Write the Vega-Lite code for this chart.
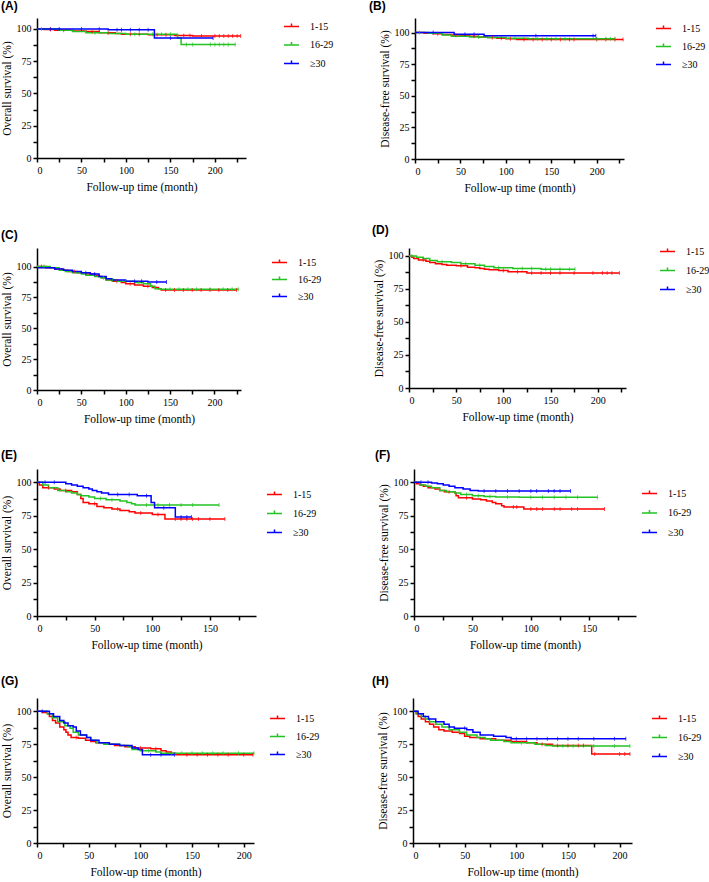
{
"$schema":"https://vega.github.io/schema/vega-lite/v6.json",
"background":"white",
"padding":{"left":1,"top":0,"right":0,"bottom":0},
"config":{
 "view":{"stroke":null},
 "font":"Liberation Serif, Times New Roman, serif",
 "axis":{"domainColor":"black","domainWidth":1.5,"tickColor":"black","tickWidth":1.5,"tickSize":4,"labelFont":"Liberation Serif, Times New Roman, serif","labelFontSize":10,"labelColor":"black","titleFont":"Liberation Serif, Times New Roman, serif","titleFontSize":11.5,"titleFontWeight":"normal","titleColor":"black","grid":false,"format":"d"},
 "axisX":{"labelPadding":3,"titlePadding":6,"labelAngle":0},
 "axisY":{"labelPadding":2,"titlePadding":4},
 "legend":{"orient":"none","padding":0,"labelFont":"Liberation Serif, Times New Roman, serif","labelFontSize":10,"labelColor":"black","symbolType":"M-1,0H1M0,0V-0.4","symbolSize":225,"symbolStrokeWidth":1.5,"labelOffset":10,"rowPadding":4},
 "title":{"font":"Liberation Sans, Arial, sans-serif","fontSize":12,"fontWeight":"bold","anchor":"start","frame":"group","color":"black"},
 "line":{"strokeWidth":1.5,"interpolate":"step-after"},
 "tick":{"thickness":1,"size":4,"orient":"vertical","yOffset":-1.5}
},
"datasets":{"km":[
{"p":"A","g":"1-15","t":0,"s":100,"c":0},{"p":"A","g":"1-15","t":8,"s":99.5,"c":0},{"p":"A","g":"1-15","t":15,"s":99.5,"c":1},{"p":"A","g":"1-15","t":20,"s":99,"c":0},{"p":"A","g":"1-15","t":30,"s":99,"c":1},{"p":"A","g":"1-15","t":40,"s":98.5,"c":0},{"p":"A","g":"1-15","t":55,"s":98,"c":0},{"p":"A","g":"1-15","t":62,"s":98,"c":1},{"p":"A","g":"1-15","t":70,"s":97,"c":0},{"p":"A","g":"1-15","t":80,"s":97,"c":1},{"p":"A","g":"1-15","t":88,"s":96.5,"c":0},{"p":"A","g":"1-15","t":95,"s":96,"c":0},{"p":"A","g":"1-15","t":105,"s":96,"c":1},{"p":"A","g":"1-15","t":115,"s":96,"c":1},{"p":"A","g":"1-15","t":125,"s":95.5,"c":0},{"p":"A","g":"1-15","t":135,"s":95.5,"c":1},{"p":"A","g":"1-15","t":145,"s":95.5,"c":1},{"p":"A","g":"1-15","t":155,"s":95,"c":0},{"p":"A","g":"1-15","t":165,"s":95,"c":1},{"p":"A","g":"1-15","t":172,"s":95,"c":1},{"p":"A","g":"1-15","t":175,"s":94.5,"c":0},{"p":"A","g":"1-15","t":185,"s":94.5,"c":1},{"p":"A","g":"1-15","t":200,"s":94.5,"c":1},{"p":"A","g":"1-15","t":205,"s":94.5,"c":1},{"p":"A","g":"1-15","t":210,"s":94.5,"c":1},{"p":"A","g":"1-15","t":215,"s":94.5,"c":1},{"p":"A","g":"1-15","t":220,"s":94.5,"c":1},{"p":"A","g":"1-15","t":225,"s":94.5,"c":1},{"p":"A","g":"1-15","t":229,"s":94.5,"c":1},
{"p":"A","g":"16-29","t":0,"s":100,"c":0},{"p":"A","g":"16-29","t":5,"s":100,"c":1},{"p":"A","g":"16-29","t":25,"s":99,"c":0},{"p":"A","g":"16-29","t":40,"s":98,"c":0},{"p":"A","g":"16-29","t":55,"s":97,"c":0},{"p":"A","g":"16-29","t":65,"s":97,"c":1},{"p":"A","g":"16-29","t":80,"s":96.5,"c":0},{"p":"A","g":"16-29","t":100,"s":96,"c":0},{"p":"A","g":"16-29","t":110,"s":96,"c":1},{"p":"A","g":"16-29","t":130,"s":96,"c":1},{"p":"A","g":"16-29","t":140,"s":96,"c":1},{"p":"A","g":"16-29","t":150,"s":96,"c":1},{"p":"A","g":"16-29","t":158,"s":93,"c":0},{"p":"A","g":"16-29","t":162,"s":88,"c":0},{"p":"A","g":"16-29","t":168,"s":88,"c":1},{"p":"A","g":"16-29","t":175,"s":88,"c":1},{"p":"A","g":"16-29","t":195,"s":88,"c":1},{"p":"A","g":"16-29","t":200,"s":88,"c":1},{"p":"A","g":"16-29","t":205,"s":88,"c":1},{"p":"A","g":"16-29","t":210,"s":88,"c":1},{"p":"A","g":"16-29","t":215,"s":88,"c":1},{"p":"A","g":"16-29","t":223,"s":88,"c":1},
{"p":"A","g":"≥30","t":0,"s":100,"c":0},{"p":"A","g":"≥30","t":15,"s":100,"c":1},{"p":"A","g":"≥30","t":25,"s":100,"c":1},{"p":"A","g":"≥30","t":50,"s":100,"c":1},{"p":"A","g":"≥30","t":70,"s":100,"c":1},{"p":"A","g":"≥30","t":80,"s":99.3,"c":0},{"p":"A","g":"≥30","t":90,"s":99.3,"c":1},{"p":"A","g":"≥30","t":95,"s":99.3,"c":1},{"p":"A","g":"≥30","t":105,"s":99.3,"c":1},{"p":"A","g":"≥30","t":115,"s":99.3,"c":1},{"p":"A","g":"≥30","t":125,"s":99.3,"c":1},{"p":"A","g":"≥30","t":132,"s":93,"c":0},{"p":"A","g":"≥30","t":150,"s":93,"c":1},{"p":"A","g":"≥30","t":198,"s":93,"c":1},
{"p":"B","g":"1-15","t":0,"s":100,"c":0},{"p":"B","g":"1-15","t":10,"s":99.5,"c":0},{"p":"B","g":"1-15","t":20,"s":99,"c":0},{"p":"B","g":"1-15","t":25,"s":99,"c":1},{"p":"B","g":"1-15","t":30,"s":98.5,"c":0},{"p":"B","g":"1-15","t":40,"s":98,"c":0},{"p":"B","g":"1-15","t":45,"s":98,"c":1},{"p":"B","g":"1-15","t":50,"s":97.5,"c":0},{"p":"B","g":"1-15","t":60,"s":97,"c":0},{"p":"B","g":"1-15","t":65,"s":97,"c":1},{"p":"B","g":"1-15","t":70,"s":96.5,"c":0},{"p":"B","g":"1-15","t":80,"s":96,"c":0},{"p":"B","g":"1-15","t":85,"s":96,"c":1},{"p":"B","g":"1-15","t":90,"s":95.5,"c":0},{"p":"B","g":"1-15","t":95,"s":95.5,"c":1},{"p":"B","g":"1-15","t":100,"s":95,"c":0},{"p":"B","g":"1-15","t":105,"s":95,"c":1},{"p":"B","g":"1-15","t":112,"s":94.5,"c":0},{"p":"B","g":"1-15","t":120,"s":94.5,"c":1},{"p":"B","g":"1-15","t":130,"s":94.5,"c":1},{"p":"B","g":"1-15","t":140,"s":94.5,"c":1},{"p":"B","g":"1-15","t":150,"s":94.5,"c":1},{"p":"B","g":"1-15","t":160,"s":94.5,"c":1},{"p":"B","g":"1-15","t":170,"s":94.5,"c":1},{"p":"B","g":"1-15","t":175,"s":94.5,"c":1},{"p":"B","g":"1-15","t":200,"s":94.5,"c":1},{"p":"B","g":"1-15","t":210,"s":94.5,"c":1},{"p":"B","g":"1-15","t":220,"s":94.5,"c":1},{"p":"B","g":"1-15","t":229,"s":94.5,"c":1},
{"p":"B","g":"16-29","t":0,"s":100,"c":0},{"p":"B","g":"16-29","t":5,"s":100,"c":1},{"p":"B","g":"16-29","t":15,"s":99.5,"c":0},{"p":"B","g":"16-29","t":30,"s":98,"c":0},{"p":"B","g":"16-29","t":40,"s":97,"c":0},{"p":"B","g":"16-29","t":60,"s":96.5,"c":0},{"p":"B","g":"16-29","t":70,"s":96.5,"c":1},{"p":"B","g":"16-29","t":80,"s":96,"c":0},{"p":"B","g":"16-29","t":100,"s":95.5,"c":0},{"p":"B","g":"16-29","t":110,"s":95.5,"c":1},{"p":"B","g":"16-29","t":125,"s":95,"c":0},{"p":"B","g":"16-29","t":135,"s":95,"c":1},{"p":"B","g":"16-29","t":145,"s":95,"c":1},{"p":"B","g":"16-29","t":155,"s":95,"c":1},{"p":"B","g":"16-29","t":165,"s":95,"c":1},{"p":"B","g":"16-29","t":200,"s":95,"c":1},{"p":"B","g":"16-29","t":210,"s":95,"c":1},{"p":"B","g":"16-29","t":215,"s":95,"c":1},{"p":"B","g":"16-29","t":220,"s":95,"c":1},
{"p":"B","g":"≥30","t":0,"s":100,"c":0},{"p":"B","g":"≥30","t":20,"s":100,"c":1},{"p":"B","g":"≥30","t":43,"s":98.7,"c":0},{"p":"B","g":"≥30","t":55,"s":98.7,"c":1},{"p":"B","g":"≥30","t":65,"s":98.7,"c":1},{"p":"B","g":"≥30","t":76,"s":97.5,"c":0},{"p":"B","g":"≥30","t":133,"s":97.5,"c":1},{"p":"B","g":"≥30","t":196,"s":97.5,"c":1},{"p":"B","g":"≥30","t":199,"s":97.5,"c":1},
{"p":"C","g":"1-15","t":0,"s":100,"c":0},{"p":"C","g":"1-15","t":5,"s":100,"c":1},{"p":"C","g":"1-15","t":10,"s":99,"c":0},{"p":"C","g":"1-15","t":20,"s":98,"c":0},{"p":"C","g":"1-15","t":28,"s":97,"c":0},{"p":"C","g":"1-15","t":35,"s":96,"c":0},{"p":"C","g":"1-15","t":42,"s":96,"c":1},{"p":"C","g":"1-15","t":45,"s":95,"c":0},{"p":"C","g":"1-15","t":55,"s":94,"c":0},{"p":"C","g":"1-15","t":65,"s":93,"c":0},{"p":"C","g":"1-15","t":70,"s":92,"c":0},{"p":"C","g":"1-15","t":73,"s":91,"c":0},{"p":"C","g":"1-15","t":78,"s":89,"c":0},{"p":"C","g":"1-15","t":85,"s":88,"c":0},{"p":"C","g":"1-15","t":90,"s":88,"c":1},{"p":"C","g":"1-15","t":95,"s":87,"c":0},{"p":"C","g":"1-15","t":100,"s":86,"c":0},{"p":"C","g":"1-15","t":105,"s":86,"c":1},{"p":"C","g":"1-15","t":110,"s":85,"c":0},{"p":"C","g":"1-15","t":120,"s":84,"c":0},{"p":"C","g":"1-15","t":125,"s":84,"c":1},{"p":"C","g":"1-15","t":130,"s":83,"c":0},{"p":"C","g":"1-15","t":137,"s":82,"c":0},{"p":"C","g":"1-15","t":140,"s":81,"c":0},{"p":"C","g":"1-15","t":145,"s":81,"c":1},{"p":"C","g":"1-15","t":155,"s":81,"c":1},{"p":"C","g":"1-15","t":165,"s":81,"c":1},{"p":"C","g":"1-15","t":175,"s":81,"c":1},{"p":"C","g":"1-15","t":185,"s":81,"c":1},{"p":"C","g":"1-15","t":195,"s":81,"c":1},{"p":"C","g":"1-15","t":205,"s":81,"c":1},{"p":"C","g":"1-15","t":215,"s":81,"c":1},{"p":"C","g":"1-15","t":225,"s":81,"c":1},
{"p":"C","g":"16-29","t":0,"s":100,"c":0},{"p":"C","g":"16-29","t":8,"s":100,"c":1},{"p":"C","g":"16-29","t":15,"s":99,"c":0},{"p":"C","g":"16-29","t":25,"s":97,"c":0},{"p":"C","g":"16-29","t":32,"s":96,"c":0},{"p":"C","g":"16-29","t":40,"s":95,"c":0},{"p":"C","g":"16-29","t":50,"s":94,"c":0},{"p":"C","g":"16-29","t":55,"s":93,"c":0},{"p":"C","g":"16-29","t":65,"s":92,"c":0},{"p":"C","g":"16-29","t":72,"s":91,"c":0},{"p":"C","g":"16-29","t":75,"s":91,"c":1},{"p":"C","g":"16-29","t":78,"s":89,"c":0},{"p":"C","g":"16-29","t":85,"s":89,"c":1},{"p":"C","g":"16-29","t":90,"s":88,"c":0},{"p":"C","g":"16-29","t":100,"s":88,"c":1},{"p":"C","g":"16-29","t":110,"s":87,"c":0},{"p":"C","g":"16-29","t":115,"s":87,"c":1},{"p":"C","g":"16-29","t":120,"s":86,"c":0},{"p":"C","g":"16-29","t":128,"s":84,"c":0},{"p":"C","g":"16-29","t":133,"s":82,"c":0},{"p":"C","g":"16-29","t":140,"s":81.5,"c":0},{"p":"C","g":"16-29","t":150,"s":81.5,"c":1},{"p":"C","g":"16-29","t":160,"s":81.5,"c":1},{"p":"C","g":"16-29","t":170,"s":81.5,"c":1},{"p":"C","g":"16-29","t":180,"s":81.5,"c":1},{"p":"C","g":"16-29","t":195,"s":81.5,"c":1},{"p":"C","g":"16-29","t":210,"s":81.5,"c":1},{"p":"C","g":"16-29","t":220,"s":81.5,"c":1},{"p":"C","g":"16-29","t":227,"s":81.5,"c":1},
{"p":"C","g":"≥30","t":0,"s":99,"c":0},{"p":"C","g":"≥30","t":20,"s":98,"c":0},{"p":"C","g":"≥30","t":30,"s":97,"c":0},{"p":"C","g":"≥30","t":40,"s":96,"c":0},{"p":"C","g":"≥30","t":50,"s":95,"c":0},{"p":"C","g":"≥30","t":55,"s":95,"c":1},{"p":"C","g":"≥30","t":60,"s":94,"c":0},{"p":"C","g":"≥30","t":65,"s":94,"c":1},{"p":"C","g":"≥30","t":70,"s":92,"c":0},{"p":"C","g":"≥30","t":78,"s":90,"c":0},{"p":"C","g":"≥30","t":85,"s":89,"c":0},{"p":"C","g":"≥30","t":100,"s":88,"c":0},{"p":"C","g":"≥30","t":110,"s":88,"c":1},{"p":"C","g":"≥30","t":118,"s":88,"c":1},{"p":"C","g":"≥30","t":125,"s":87.5,"c":0},{"p":"C","g":"≥30","t":135,"s":87.5,"c":1},{"p":"C","g":"≥30","t":146,"s":87.5,"c":1},
{"p":"D","g":"1-15","t":0,"s":100,"c":0},{"p":"D","g":"1-15","t":3,"s":99,"c":0},{"p":"D","g":"1-15","t":5,"s":98,"c":0},{"p":"D","g":"1-15","t":10,"s":97,"c":0},{"p":"D","g":"1-15","t":15,"s":97,"c":1},{"p":"D","g":"1-15","t":18,"s":96,"c":0},{"p":"D","g":"1-15","t":22,"s":95,"c":0},{"p":"D","g":"1-15","t":28,"s":94,"c":0},{"p":"D","g":"1-15","t":35,"s":93.5,"c":0},{"p":"D","g":"1-15","t":40,"s":93,"c":0},{"p":"D","g":"1-15","t":50,"s":92.5,"c":0},{"p":"D","g":"1-15","t":55,"s":92.5,"c":1},{"p":"D","g":"1-15","t":62,"s":91.5,"c":0},{"p":"D","g":"1-15","t":70,"s":91,"c":0},{"p":"D","g":"1-15","t":75,"s":90.5,"c":0},{"p":"D","g":"1-15","t":80,"s":90,"c":0},{"p":"D","g":"1-15","t":85,"s":89.5,"c":0},{"p":"D","g":"1-15","t":95,"s":89,"c":0},{"p":"D","g":"1-15","t":100,"s":89,"c":1},{"p":"D","g":"1-15","t":105,"s":88,"c":0},{"p":"D","g":"1-15","t":115,"s":88,"c":1},{"p":"D","g":"1-15","t":125,"s":87,"c":0},{"p":"D","g":"1-15","t":130,"s":87,"c":1},{"p":"D","g":"1-15","t":140,"s":87,"c":1},{"p":"D","g":"1-15","t":150,"s":87,"c":1},{"p":"D","g":"1-15","t":160,"s":87,"c":1},{"p":"D","g":"1-15","t":175,"s":87,"c":1},{"p":"D","g":"1-15","t":195,"s":87,"c":1},{"p":"D","g":"1-15","t":205,"s":87,"c":1},{"p":"D","g":"1-15","t":210,"s":87,"c":1},{"p":"D","g":"1-15","t":215,"s":87,"c":1},{"p":"D","g":"1-15","t":223,"s":87,"c":1},
{"p":"D","g":"16-29","t":0,"s":100,"c":0},{"p":"D","g":"16-29","t":3,"s":100,"c":1},{"p":"D","g":"16-29","t":8,"s":99,"c":0},{"p":"D","g":"16-29","t":15,"s":98,"c":0},{"p":"D","g":"16-29","t":22,"s":96.5,"c":0},{"p":"D","g":"16-29","t":30,"s":95.5,"c":0},{"p":"D","g":"16-29","t":35,"s":95.5,"c":1},{"p":"D","g":"16-29","t":45,"s":95,"c":0},{"p":"D","g":"16-29","t":55,"s":94,"c":0},{"p":"D","g":"16-29","t":60,"s":94,"c":1},{"p":"D","g":"16-29","t":70,"s":93,"c":0},{"p":"D","g":"16-29","t":75,"s":93,"c":1},{"p":"D","g":"16-29","t":80,"s":92,"c":0},{"p":"D","g":"16-29","t":90,"s":91,"c":0},{"p":"D","g":"16-29","t":95,"s":91,"c":1},{"p":"D","g":"16-29","t":110,"s":90.5,"c":0},{"p":"D","g":"16-29","t":120,"s":90.5,"c":1},{"p":"D","g":"16-29","t":130,"s":90.5,"c":1},{"p":"D","g":"16-29","t":140,"s":90,"c":0},{"p":"D","g":"16-29","t":145,"s":90,"c":1},{"p":"D","g":"16-29","t":150,"s":90,"c":1},{"p":"D","g":"16-29","t":160,"s":90,"c":1},{"p":"D","g":"16-29","t":170,"s":90,"c":1},{"p":"D","g":"16-29","t":176,"s":90,"c":1},
{"p":"E","g":"1-15","t":0,"s":100,"c":0},{"p":"E","g":"1-15","t":2,"s":98,"c":0},{"p":"E","g":"1-15","t":5,"s":96,"c":0},{"p":"E","g":"1-15","t":10,"s":96,"c":1},{"p":"E","g":"1-15","t":15,"s":95,"c":0},{"p":"E","g":"1-15","t":20,"s":94,"c":0},{"p":"E","g":"1-15","t":25,"s":94,"c":1},{"p":"E","g":"1-15","t":30,"s":93,"c":0},{"p":"E","g":"1-15","t":35,"s":91,"c":0},{"p":"E","g":"1-15","t":38,"s":88,"c":0},{"p":"E","g":"1-15","t":40,"s":85,"c":0},{"p":"E","g":"1-15","t":45,"s":84,"c":0},{"p":"E","g":"1-15","t":50,"s":84,"c":1},{"p":"E","g":"1-15","t":52,"s":82,"c":0},{"p":"E","g":"1-15","t":58,"s":81,"c":0},{"p":"E","g":"1-15","t":65,"s":80,"c":0},{"p":"E","g":"1-15","t":70,"s":80,"c":1},{"p":"E","g":"1-15","t":72,"s":79,"c":0},{"p":"E","g":"1-15","t":80,"s":78,"c":0},{"p":"E","g":"1-15","t":85,"s":77,"c":0},{"p":"E","g":"1-15","t":90,"s":77,"c":1},{"p":"E","g":"1-15","t":100,"s":76,"c":0},{"p":"E","g":"1-15","t":105,"s":76,"c":1},{"p":"E","g":"1-15","t":111,"s":72.5,"c":0},{"p":"E","g":"1-15","t":120,"s":72.5,"c":1},{"p":"E","g":"1-15","t":125,"s":72.5,"c":1},{"p":"E","g":"1-15","t":130,"s":72.5,"c":1},{"p":"E","g":"1-15","t":135,"s":72.5,"c":1},{"p":"E","g":"1-15","t":140,"s":72.5,"c":1},{"p":"E","g":"1-15","t":150,"s":72.5,"c":1},{"p":"E","g":"1-15","t":163,"s":72.5,"c":1},
{"p":"E","g":"16-29","t":0,"s":100,"c":0},{"p":"E","g":"16-29","t":5,"s":98,"c":0},{"p":"E","g":"16-29","t":10,"s":96,"c":0},{"p":"E","g":"16-29","t":18,"s":94,"c":0},{"p":"E","g":"16-29","t":25,"s":93,"c":0},{"p":"E","g":"16-29","t":30,"s":92,"c":0},{"p":"E","g":"16-29","t":35,"s":91,"c":0},{"p":"E","g":"16-29","t":38,"s":90,"c":0},{"p":"E","g":"16-29","t":45,"s":89,"c":0},{"p":"E","g":"16-29","t":50,"s":88,"c":0},{"p":"E","g":"16-29","t":55,"s":88,"c":1},{"p":"E","g":"16-29","t":60,"s":87,"c":0},{"p":"E","g":"16-29","t":65,"s":87,"c":1},{"p":"E","g":"16-29","t":72,"s":86,"c":0},{"p":"E","g":"16-29","t":78,"s":85,"c":0},{"p":"E","g":"16-29","t":82,"s":84,"c":0},{"p":"E","g":"16-29","t":85,"s":83,"c":0},{"p":"E","g":"16-29","t":95,"s":83,"c":1},{"p":"E","g":"16-29","t":105,"s":83,"c":1},{"p":"E","g":"16-29","t":115,"s":83,"c":1},{"p":"E","g":"16-29","t":125,"s":83,"c":1},{"p":"E","g":"16-29","t":135,"s":83,"c":1},{"p":"E","g":"16-29","t":158,"s":83,"c":1},
{"p":"E","g":"≥30","t":0,"s":100,"c":0},{"p":"E","g":"≥30","t":7,"s":100,"c":1},{"p":"E","g":"≥30","t":15,"s":100,"c":1},{"p":"E","g":"≥30","t":25,"s":99,"c":0},{"p":"E","g":"≥30","t":30,"s":98,"c":0},{"p":"E","g":"≥30","t":35,"s":97,"c":0},{"p":"E","g":"≥30","t":40,"s":96,"c":0},{"p":"E","g":"≥30","t":45,"s":95,"c":0},{"p":"E","g":"≥30","t":48,"s":94,"c":0},{"p":"E","g":"≥30","t":52,"s":93,"c":0},{"p":"E","g":"≥30","t":56,"s":92,"c":0},{"p":"E","g":"≥30","t":62,"s":91,"c":0},{"p":"E","g":"≥30","t":70,"s":91,"c":1},{"p":"E","g":"≥30","t":80,"s":91,"c":1},{"p":"E","g":"≥30","t":87,"s":90,"c":0},{"p":"E","g":"≥30","t":95,"s":90,"c":1},{"p":"E","g":"≥30","t":99,"s":85,"c":0},{"p":"E","g":"≥30","t":102,"s":81,"c":0},{"p":"E","g":"≥30","t":110,"s":81,"c":1},{"p":"E","g":"≥30","t":120,"s":74,"c":0},{"p":"E","g":"≥30","t":125,"s":74,"c":1},{"p":"E","g":"≥30","t":130,"s":74,"c":1},{"p":"E","g":"≥30","t":134,"s":74,"c":1},
{"p":"F","g":"1-15","t":0,"s":100,"c":0},{"p":"F","g":"1-15","t":2,"s":99,"c":0},{"p":"F","g":"1-15","t":5,"s":98,"c":0},{"p":"F","g":"1-15","t":8,"s":97,"c":0},{"p":"F","g":"1-15","t":12,"s":96,"c":0},{"p":"F","g":"1-15","t":18,"s":95,"c":0},{"p":"F","g":"1-15","t":22,"s":94,"c":0},{"p":"F","g":"1-15","t":26,"s":93,"c":0},{"p":"F","g":"1-15","t":30,"s":93,"c":1},{"p":"F","g":"1-15","t":35,"s":92,"c":0},{"p":"F","g":"1-15","t":36,"s":90,"c":0},{"p":"F","g":"1-15","t":38,"s":88.5,"c":0},{"p":"F","g":"1-15","t":45,"s":88.5,"c":1},{"p":"F","g":"1-15","t":50,"s":87.5,"c":0},{"p":"F","g":"1-15","t":57,"s":87,"c":0},{"p":"F","g":"1-15","t":62,"s":86,"c":0},{"p":"F","g":"1-15","t":67,"s":85,"c":0},{"p":"F","g":"1-15","t":70,"s":84,"c":0},{"p":"F","g":"1-15","t":75,"s":82.5,"c":0},{"p":"F","g":"1-15","t":77,"s":81.5,"c":0},{"p":"F","g":"1-15","t":85,"s":81.5,"c":1},{"p":"F","g":"1-15","t":88,"s":81.5,"c":1},{"p":"F","g":"1-15","t":94,"s":80,"c":0},{"p":"F","g":"1-15","t":100,"s":80,"c":1},{"p":"F","g":"1-15","t":105,"s":80,"c":1},{"p":"F","g":"1-15","t":110,"s":80,"c":1},{"p":"F","g":"1-15","t":120,"s":80,"c":1},{"p":"F","g":"1-15","t":125,"s":80,"c":1},{"p":"F","g":"1-15","t":135,"s":80,"c":1},{"p":"F","g":"1-15","t":140,"s":80,"c":1},{"p":"F","g":"1-15","t":163,"s":80,"c":1},
{"p":"F","g":"16-29","t":0,"s":100,"c":0},{"p":"F","g":"16-29","t":5,"s":98,"c":0},{"p":"F","g":"16-29","t":10,"s":97,"c":0},{"p":"F","g":"16-29","t":15,"s":96,"c":0},{"p":"F","g":"16-29","t":22,"s":94,"c":0},{"p":"F","g":"16-29","t":28,"s":93,"c":0},{"p":"F","g":"16-29","t":35,"s":92,"c":0},{"p":"F","g":"16-29","t":40,"s":91,"c":0},{"p":"F","g":"16-29","t":45,"s":91,"c":1},{"p":"F","g":"16-29","t":50,"s":90,"c":0},{"p":"F","g":"16-29","t":55,"s":90,"c":1},{"p":"F","g":"16-29","t":60,"s":89.5,"c":0},{"p":"F","g":"16-29","t":65,"s":89.5,"c":1},{"p":"F","g":"16-29","t":70,"s":89,"c":0},{"p":"F","g":"16-29","t":80,"s":89,"c":1},{"p":"F","g":"16-29","t":90,"s":88.8,"c":0},{"p":"F","g":"16-29","t":100,"s":88.8,"c":1},{"p":"F","g":"16-29","t":110,"s":88.8,"c":1},{"p":"F","g":"16-29","t":120,"s":88.8,"c":1},{"p":"F","g":"16-29","t":130,"s":88.8,"c":1},{"p":"F","g":"16-29","t":140,"s":88.8,"c":1},{"p":"F","g":"16-29","t":157,"s":88.8,"c":1},
{"p":"F","g":"≥30","t":0,"s":100,"c":0},{"p":"F","g":"≥30","t":6,"s":100,"c":1},{"p":"F","g":"≥30","t":12,"s":100,"c":1},{"p":"F","g":"≥30","t":15,"s":99.5,"c":0},{"p":"F","g":"≥30","t":20,"s":99,"c":0},{"p":"F","g":"≥30","t":25,"s":98,"c":0},{"p":"F","g":"≥30","t":30,"s":97,"c":0},{"p":"F","g":"≥30","t":35,"s":96,"c":0},{"p":"F","g":"≥30","t":42,"s":95,"c":0},{"p":"F","g":"≥30","t":48,"s":94,"c":0},{"p":"F","g":"≥30","t":55,"s":93.5,"c":0},{"p":"F","g":"≥30","t":60,"s":93.5,"c":1},{"p":"F","g":"≥30","t":70,"s":93.5,"c":1},{"p":"F","g":"≥30","t":80,"s":93.5,"c":1},{"p":"F","g":"≥30","t":90,"s":93.5,"c":1},{"p":"F","g":"≥30","t":100,"s":93.5,"c":1},{"p":"F","g":"≥30","t":105,"s":93.5,"c":1},{"p":"F","g":"≥30","t":115,"s":93.5,"c":1},{"p":"F","g":"≥30","t":120,"s":93.5,"c":1},{"p":"F","g":"≥30","t":125,"s":93.5,"c":1},{"p":"F","g":"≥30","t":134,"s":93.5,"c":1},
{"p":"G","g":"1-15","t":0,"s":100,"c":0},{"p":"G","g":"1-15","t":5,"s":99,"c":0},{"p":"G","g":"1-15","t":10,"s":98,"c":0},{"p":"G","g":"1-15","t":12,"s":96,"c":0},{"p":"G","g":"1-15","t":15,"s":93,"c":0},{"p":"G","g":"1-15","t":18,"s":91,"c":0},{"p":"G","g":"1-15","t":22,"s":88,"c":0},{"p":"G","g":"1-15","t":26,"s":86,"c":0},{"p":"G","g":"1-15","t":28,"s":84,"c":0},{"p":"G","g":"1-15","t":30,"s":82,"c":0},{"p":"G","g":"1-15","t":33,"s":80,"c":0},{"p":"G","g":"1-15","t":38,"s":80,"c":1},{"p":"G","g":"1-15","t":40,"s":79.5,"c":0},{"p":"G","g":"1-15","t":47,"s":78,"c":0},{"p":"G","g":"1-15","t":52,"s":77,"c":0},{"p":"G","g":"1-15","t":57,"s":76,"c":0},{"p":"G","g":"1-15","t":65,"s":75,"c":0},{"p":"G","g":"1-15","t":75,"s":74,"c":0},{"p":"G","g":"1-15","t":85,"s":73,"c":0},{"p":"G","g":"1-15","t":95,"s":72,"c":0},{"p":"G","g":"1-15","t":100,"s":72,"c":1},{"p":"G","g":"1-15","t":110,"s":71.5,"c":0},{"p":"G","g":"1-15","t":115,"s":71.5,"c":1},{"p":"G","g":"1-15","t":120,"s":70,"c":0},{"p":"G","g":"1-15","t":125,"s":69,"c":0},{"p":"G","g":"1-15","t":130,"s":68,"c":0},{"p":"G","g":"1-15","t":134,"s":67,"c":0},{"p":"G","g":"1-15","t":145,"s":67,"c":1},{"p":"G","g":"1-15","t":155,"s":67,"c":1},{"p":"G","g":"1-15","t":165,"s":67,"c":1},{"p":"G","g":"1-15","t":175,"s":67,"c":1},{"p":"G","g":"1-15","t":185,"s":67,"c":1},{"p":"G","g":"1-15","t":200,"s":67,"c":1},{"p":"G","g":"1-15","t":209,"s":67,"c":1},
{"p":"G","g":"16-29","t":0,"s":100,"c":0},{"p":"G","g":"16-29","t":10,"s":98,"c":0},{"p":"G","g":"16-29","t":15,"s":95,"c":0},{"p":"G","g":"16-29","t":20,"s":92,"c":0},{"p":"G","g":"16-29","t":27,"s":89,"c":0},{"p":"G","g":"16-29","t":32,"s":87,"c":0},{"p":"G","g":"16-29","t":35,"s":84,"c":0},{"p":"G","g":"16-29","t":40,"s":82,"c":0},{"p":"G","g":"16-29","t":48,"s":80,"c":0},{"p":"G","g":"16-29","t":52,"s":78,"c":0},{"p":"G","g":"16-29","t":58,"s":76,"c":0},{"p":"G","g":"16-29","t":65,"s":75,"c":0},{"p":"G","g":"16-29","t":80,"s":74,"c":0},{"p":"G","g":"16-29","t":88,"s":73,"c":0},{"p":"G","g":"16-29","t":92,"s":71,"c":0},{"p":"G","g":"16-29","t":100,"s":70,"c":0},{"p":"G","g":"16-29","t":108,"s":70,"c":1},{"p":"G","g":"16-29","t":115,"s":69,"c":0},{"p":"G","g":"16-29","t":120,"s":68,"c":0},{"p":"G","g":"16-29","t":130,"s":68,"c":1},{"p":"G","g":"16-29","t":140,"s":68,"c":1},{"p":"G","g":"16-29","t":150,"s":68,"c":1},{"p":"G","g":"16-29","t":160,"s":68,"c":1},{"p":"G","g":"16-29","t":170,"s":68,"c":1},{"p":"G","g":"16-29","t":180,"s":68,"c":1},{"p":"G","g":"16-29","t":195,"s":68,"c":1},{"p":"G","g":"16-29","t":210,"s":68,"c":1},
{"p":"G","g":"≥30","t":0,"s":100,"c":0},{"p":"G","g":"≥30","t":5,"s":100,"c":1},{"p":"G","g":"≥30","t":12,"s":98,"c":0},{"p":"G","g":"≥30","t":16,"s":96,"c":0},{"p":"G","g":"≥30","t":22,"s":93,"c":0},{"p":"G","g":"≥30","t":26,"s":91,"c":0},{"p":"G","g":"≥30","t":30,"s":89,"c":0},{"p":"G","g":"≥30","t":35,"s":88,"c":0},{"p":"G","g":"≥30","t":38,"s":85,"c":0},{"p":"G","g":"≥30","t":42,"s":82,"c":0},{"p":"G","g":"≥30","t":48,"s":80,"c":0},{"p":"G","g":"≥30","t":52,"s":78,"c":0},{"p":"G","g":"≥30","t":60,"s":76,"c":0},{"p":"G","g":"≥30","t":70,"s":75,"c":0},{"p":"G","g":"≥30","t":80,"s":74,"c":0},{"p":"G","g":"≥30","t":92,"s":72,"c":0},{"p":"G","g":"≥30","t":98,"s":71,"c":0},{"p":"G","g":"≥30","t":102,"s":67,"c":0},{"p":"G","g":"≥30","t":110,"s":67,"c":1},{"p":"G","g":"≥30","t":120,"s":67,"c":1},{"p":"G","g":"≥30","t":133,"s":67,"c":1},
{"p":"H","g":"1-15","t":0,"s":100,"c":0},{"p":"H","g":"1-15","t":3,"s":98,"c":0},{"p":"H","g":"1-15","t":5,"s":96,"c":0},{"p":"H","g":"1-15","t":8,"s":94,"c":0},{"p":"H","g":"1-15","t":12,"s":92,"c":0},{"p":"H","g":"1-15","t":16,"s":90,"c":0},{"p":"H","g":"1-15","t":20,"s":88,"c":0},{"p":"H","g":"1-15","t":25,"s":86,"c":0},{"p":"H","g":"1-15","t":30,"s":85,"c":0},{"p":"H","g":"1-15","t":38,"s":84,"c":0},{"p":"H","g":"1-15","t":45,"s":83,"c":0},{"p":"H","g":"1-15","t":50,"s":81,"c":0},{"p":"H","g":"1-15","t":55,"s":80,"c":0},{"p":"H","g":"1-15","t":65,"s":79,"c":0},{"p":"H","g":"1-15","t":80,"s":78,"c":0},{"p":"H","g":"1-15","t":95,"s":77,"c":0},{"p":"H","g":"1-15","t":110,"s":76,"c":0},{"p":"H","g":"1-15","t":120,"s":75,"c":0},{"p":"H","g":"1-15","t":125,"s":75,"c":1},{"p":"H","g":"1-15","t":135,"s":74,"c":0},{"p":"H","g":"1-15","t":140,"s":74,"c":1},{"p":"H","g":"1-15","t":150,"s":74,"c":1},{"p":"H","g":"1-15","t":160,"s":74,"c":1},{"p":"H","g":"1-15","t":165,"s":74,"c":1},{"p":"H","g":"1-15","t":173,"s":67.5,"c":0},{"p":"H","g":"1-15","t":176,"s":67.5,"c":1},{"p":"H","g":"1-15","t":200,"s":67.5,"c":1},{"p":"H","g":"1-15","t":205,"s":67.5,"c":1},{"p":"H","g":"1-15","t":210,"s":67.5,"c":1},
{"p":"H","g":"16-29","t":0,"s":100,"c":0},{"p":"H","g":"16-29","t":4,"s":98,"c":0},{"p":"H","g":"16-29","t":8,"s":96,"c":0},{"p":"H","g":"16-29","t":12,"s":94,"c":0},{"p":"H","g":"16-29","t":16,"s":92,"c":0},{"p":"H","g":"16-29","t":22,"s":90,"c":0},{"p":"H","g":"16-29","t":28,"s":88,"c":0},{"p":"H","g":"16-29","t":35,"s":86,"c":0},{"p":"H","g":"16-29","t":45,"s":84,"c":0},{"p":"H","g":"16-29","t":52,"s":82,"c":0},{"p":"H","g":"16-29","t":62,"s":80,"c":0},{"p":"H","g":"16-29","t":70,"s":79,"c":0},{"p":"H","g":"16-29","t":75,"s":78,"c":0},{"p":"H","g":"16-29","t":88,"s":77,"c":0},{"p":"H","g":"16-29","t":95,"s":76,"c":0},{"p":"H","g":"16-29","t":105,"s":76,"c":1},{"p":"H","g":"16-29","t":118,"s":75,"c":0},{"p":"H","g":"16-29","t":128,"s":74,"c":0},{"p":"H","g":"16-29","t":135,"s":73.5,"c":0},{"p":"H","g":"16-29","t":145,"s":73.5,"c":1},{"p":"H","g":"16-29","t":155,"s":73.5,"c":1},{"p":"H","g":"16-29","t":175,"s":73.5,"c":1},{"p":"H","g":"16-29","t":195,"s":73.5,"c":1},{"p":"H","g":"16-29","t":210,"s":73.5,"c":1},
{"p":"H","g":"≥30","t":0,"s":100,"c":0},{"p":"H","g":"≥30","t":5,"s":98,"c":0},{"p":"H","g":"≥30","t":10,"s":96,"c":0},{"p":"H","g":"≥30","t":15,"s":94,"c":0},{"p":"H","g":"≥30","t":22,"s":92,"c":0},{"p":"H","g":"≥30","t":30,"s":90,"c":0},{"p":"H","g":"≥30","t":35,"s":88,"c":0},{"p":"H","g":"≥30","t":40,"s":87,"c":0},{"p":"H","g":"≥30","t":50,"s":87,"c":1},{"p":"H","g":"≥30","t":52,"s":86,"c":0},{"p":"H","g":"≥30","t":58,"s":84,"c":0},{"p":"H","g":"≥30","t":65,"s":82,"c":0},{"p":"H","g":"≥30","t":78,"s":81,"c":0},{"p":"H","g":"≥30","t":90,"s":80,"c":0},{"p":"H","g":"≥30","t":95,"s":79,"c":0},{"p":"H","g":"≥30","t":100,"s":79,"c":1},{"p":"H","g":"≥30","t":110,"s":79,"c":1},{"p":"H","g":"≥30","t":120,"s":79,"c":1},{"p":"H","g":"≥30","t":130,"s":79,"c":1},{"p":"H","g":"≥30","t":140,"s":79,"c":1},{"p":"H","g":"≥30","t":150,"s":79,"c":1},{"p":"H","g":"≥30","t":160,"s":79,"c":1},{"p":"H","g":"≥30","t":175,"s":79,"c":1},{"p":"H","g":"≥30","t":195,"s":79,"c":1},{"p":"H","g":"≥30","t":206,"s":79,"c":1}
]},
"data":{"name":"km"},
"resolve":{"scale":{"color":"independent","x":"independent","y":"independent"},"legend":{"color":"independent"}},
"spacing":30,
"vconcat":[
 {"spacing":35,"resolve":{"scale":{"color":"independent","x":"independent","y":"independent"},"legend":{"color":"independent"}},
  "hconcat":[
  {"width":209,"height":140,"title":{"text":"(A)","offset":5,"dx":-36},
   "transform":[{"filter":"datum.p==='A'"}],
   "encoding":{
    "x":{"field":"t","type":"quantitative","scale":{"domain":[0,235],"nice":false},"axis":{"title":"Follow-up time (month)","values":[0,25,50,75,100,125,150,175,200,225],"labelExpr":"datum.value % 50 === 0 ? datum.label : ''"}},
    "y":{"field":"s","type":"quantitative","scale":{"domain":[0,108.5],"nice":false},"axis":{"title":"Overall survival (%)","values":[0,12.5,25,37.5,50,62.5,75,87.5,100],"labelExpr":"datum.value % 25 === 0 ? datum.label : ''"}},
    "color":{"field":"g","type":"nominal","scale":{"domain":["1-15","16-29","≥30"],"range":["#ff0000","#22c322","#0000ff"]},"legend":{"title":null,"legendX":246,"legendY":0,"rowPadding":4.5}}},
   "layer":[{"mark":"line"},{"transform":[{"filter":"datum.c===1"}],"mark":"tick"}]},
  {"width":209,"height":141,"title":{"text":"(B)","offset":5,"dx":-46},
   "transform":[{"filter":"datum.p==='B'"}],
   "encoding":{
    "x":{"field":"t","type":"quantitative","scale":{"domain":[0,230],"nice":false},"axis":{"title":"Follow-up time (month)","values":[0,25,50,75,100,125,150,175,200,225],"labelExpr":"datum.value % 50 === 0 ? datum.label : ''"}},
    "y":{"field":"s","type":"quantitative","scale":{"domain":[0,111.5],"nice":false},"axis":{"title":"Disease-free survival (%)","values":[0,12.5,25,37.5,50,62.5,75,87.5,100],"labelExpr":"datum.value % 25 === 0 ? datum.label : ''"}},
    "color":{"field":"g","type":"nominal","scale":{"domain":["1-15","16-29","≥30"],"range":["#ff0000","#22c322","#0000ff"]},"legend":{"title":null,"legendX":240,"legendY":2,"rowPadding":4}}},
   "layer":[{"mark":"line"},{"transform":[{"filter":"datum.c===1"}],"mark":"tick"}]}
 ]},
 {"spacing":24,"resolve":{"scale":{"color":"independent","x":"independent","y":"independent"},"legend":{"color":"independent"}},
  "vconcat":[
  {"spacing":50,"resolve":{"scale":{"color":"independent","x":"independent","y":"independent"},"legend":{"color":"independent"}},
   "hconcat":[
   {"width":204,"height":142,"title":{"text":"(C)","offset":6,"dx":-36},
    "transform":[{"filter":"datum.p==='C'"}],
    "encoding":{
     "x":{"field":"t","type":"quantitative","scale":{"domain":[0,230],"nice":false},"axis":{"title":"Follow-up time (month)","values":[0,25,50,75,100,125,150,175,200,225],"labelExpr":"datum.value % 50 === 0 ? datum.label : ''"}},
     "y":{"field":"s","type":"quantitative","scale":{"domain":[0,115],"nice":false},"axis":{"title":"Overall survival (%)","values":[0,12.5,25,37.5,50,62.5,75,87.5,100],"labelExpr":"datum.value % 25 === 0 ? datum.label : ''"}},
     "color":{"field":"g","type":"nominal","scale":{"domain":["1-15","16-29","≥30"],"range":["#ff0000","#22c322","#0000ff"]},"legend":{"title":null,"legendX":234,"legendY":6,"rowPadding":3}}},
    "layer":[{"mark":"line"},{"transform":[{"filter":"datum.c===1"}],"mark":"tick"}]},
   {"width":217,"height":140,"title":{"text":"(D)","offset":6,"dx":-37},
    "transform":[{"filter":"datum.p==='D'"}],
    "encoding":{
     "x":{"field":"t","type":"quantitative","scale":{"domain":[0,230],"nice":false},"axis":{"title":"Follow-up time (month)","values":[0,25,50,75,100,125,150,175,200,225],"labelExpr":"datum.value % 50 === 0 ? datum.label : ''"}},
     "y":{"field":"s","type":"quantitative","scale":{"domain":[0,106],"nice":false},"axis":{"title":"Disease-free survival (%)","values":[0,12.5,25,37.5,50,62.5,75,87.5,100],"labelExpr":"datum.value % 25 === 0 ? datum.label : ''"}},
     "color":{"field":"g","type":"nominal","scale":{"domain":["1-15","16-29","≥30"],"range":["#ff0000","#22c322","#0000ff"]},"legend":{"title":null,"legendX":250,"legendY":-5,"rowPadding":5}}},
    "layer":[{"mark":"line"},{"transform":[{"filter":"datum.c===1"}],"mark":"tick"}]}
  ]},
  {"spacing":58,"resolve":{"scale":{"color":"independent","x":"independent","y":"independent"},"legend":{"color":"independent"}},
   "hconcat":[
   {"width":219,"height":147,"title":{"text":"(E)","offset":7,"dx":-36},
    "transform":[{"filter":"datum.p==='E'"}],
    "encoding":{
     "x":{"field":"t","type":"quantitative","scale":{"domain":[0,190],"nice":false},"axis":{"title":"Follow-up time (month)","values":[0,25,50,75,100,125,150,175],"labelExpr":"datum.value % 50 === 0 ? datum.label : ''"}},
     "y":{"field":"s","type":"quantitative","scale":{"domain":[0,110],"nice":false},"axis":{"title":"Overall survival (%)","values":[0,12.5,25,37.5,50,62.5,75,87.5,100],"labelExpr":"datum.value % 25 === 0 ? datum.label : ''"}},
     "color":{"field":"g","type":"nominal","scale":{"domain":["1-15","16-29","≥30"],"range":["#ff0000","#22c322","#0000ff"]},"legend":{"title":null,"legendX":229,"legendY":17,"rowPadding":5}}},
    "layer":[{"mark":"line"},{"transform":[{"filter":"datum.c===1"}],"mark":"tick"}]},
   {"width":222,"height":147,"title":{"text":"(F)","offset":7,"dx":-39},
    "transform":[{"filter":"datum.p==='F'"}],
    "encoding":{
     "x":{"field":"t","type":"quantitative","scale":{"domain":[0,190],"nice":false},"axis":{"title":"Follow-up time (month)","values":[0,25,50,75,100,125,150,175],"labelExpr":"datum.value % 50 === 0 ? datum.label : ''"}},
     "y":{"field":"s","type":"quantitative","scale":{"domain":[0,110],"nice":false},"axis":{"title":"Disease-free survival (%)","values":[0,12.5,25,37.5,50,62.5,75,87.5,100],"labelExpr":"datum.value % 25 === 0 ? datum.label : ''"}},
     "color":{"field":"g","type":"nominal","scale":{"domain":["1-15","16-29","≥30"],"range":["#ff0000","#22c322","#0000ff"]},"legend":{"title":null,"legendX":227,"legendY":16,"rowPadding":5.5}}},
    "layer":[{"mark":"line"},{"transform":[{"filter":"datum.c===1"}],"mark":"tick"}]}
  ]},
  {"spacing":52,"resolve":{"scale":{"color":"independent","x":"independent","y":"independent"},"legend":{"color":"independent"}},
   "hconcat":[
   {"width":217,"height":145,"title":{"text":"(G)","offset":10,"dx":-36},
    "transform":[{"filter":"datum.p==='G'"}],
    "encoding":{
     "x":{"field":"t","type":"quantitative","scale":{"domain":[0,210],"nice":false},"axis":{"title":"Follow-up time (month)","values":[0,25,50,75,100,125,150,175,200],"labelExpr":"datum.value % 50 === 0 ? datum.label : ''"}},
     "y":{"field":"s","type":"quantitative","scale":{"domain":[0,110],"nice":false},"axis":{"title":"Overall survival (%)","values":[0,12.5,25,37.5,50,62.5,75,87.5,100],"labelExpr":"datum.value % 25 === 0 ? datum.label : ''"}},
     "color":{"field":"g","type":"nominal","scale":{"domain":["1-15","16-29","≥30"],"range":["#ff0000","#22c322","#0000ff"]},"legend":{"title":null,"legendX":232,"legendY":12,"rowPadding":4}}},
    "layer":[{"mark":"line"},{"transform":[{"filter":"datum.c===1"}],"mark":"tick"}]},
   {"width":219,"height":145,"title":{"text":"(H)","offset":10,"dx":-41},
    "transform":[{"filter":"datum.p==='H'"}],
    "encoding":{
     "x":{"field":"t","type":"quantitative","scale":{"domain":[0,212],"nice":false},"axis":{"title":"Follow-up time (month)","values":[0,25,50,75,100,125,150,175,200],"labelExpr":"datum.value % 50 === 0 ? datum.label : ''"}},
     "y":{"field":"s","type":"quantitative","scale":{"domain":[0,110],"nice":false},"axis":{"title":"Disease-free survival (%)","values":[0,12.5,25,37.5,50,62.5,75,87.5,100],"labelExpr":"datum.value % 25 === 0 ? datum.label : ''"}},
     "color":{"field":"g","type":"nominal","scale":{"domain":["1-15","16-29","≥30"],"range":["#ff0000","#22c322","#0000ff"]},"legend":{"title":null,"legendX":238,"legendY":12,"rowPadding":5}}},
    "layer":[{"mark":"line"},{"transform":[{"filter":"datum.c===1"}],"mark":"tick"}]}
  ]}
 ]}
]
}
